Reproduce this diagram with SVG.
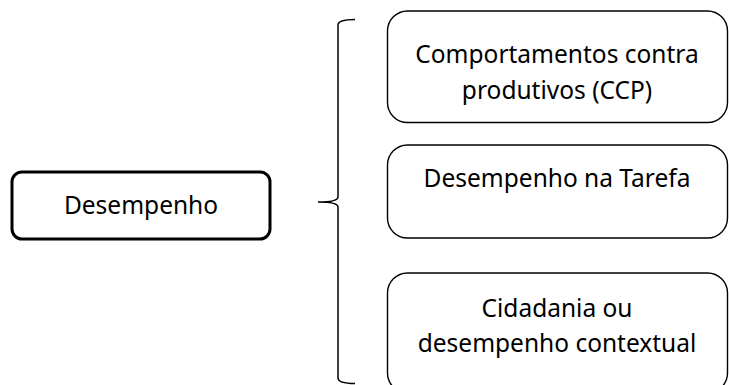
<svg xmlns="http://www.w3.org/2000/svg" width="729" height="385" viewBox="0 0 729 385">
<style>
.bg{fill:#ffffff}
.box{fill:#ffffff;stroke:#000000;stroke-width:1.4}
.main{fill:#ffffff;stroke:#000000;stroke-width:3}
.lbl{font-family:"Noto Sans","Open Sans","Liberation Sans",sans-serif;font-size:24.5px;fill:#000000;text-anchor:middle}
.br{fill:none;stroke:#000000;stroke-width:1.5}
</style>
<rect class="bg" x="0" y="0" width="729" height="385"/>
<g id="connectors">
<path class="br" d="M355,19.5 Q338,19.5 338,25 L338,197 Q338,202 318,202 Q338,202 338,207 L338,378 Q338,383.5 355,383.5"/>
</g>
<g id="node-desempenho">
<rect class="main" x="12" y="172" width="258" height="67" rx="10" ry="10"/>
<text class="lbl" x="141" y="214">Desempenho</text>
</g>
<g id="node-ccp">
<rect class="box" x="387.5" y="11" width="340" height="111.5" rx="20" ry="20"/>
<text class="lbl" x="557" y="63">Comportamentos contra</text>
<text class="lbl" x="557" y="99">produtivos (CCP)</text>
</g>
<g id="node-tarefa">
<rect class="box" x="387.5" y="145" width="340" height="93" rx="20" ry="20"/>
<text class="lbl" x="557" y="187">Desempenho na Tarefa</text>
</g>
<g id="node-cidadania">
<rect class="box" x="387.5" y="273" width="340" height="120" rx="20" ry="20"/>
<text class="lbl" x="557" y="317">Cidadania ou</text>
<text class="lbl" x="557" y="352">desempenho contextual</text>
</g>
</svg>
